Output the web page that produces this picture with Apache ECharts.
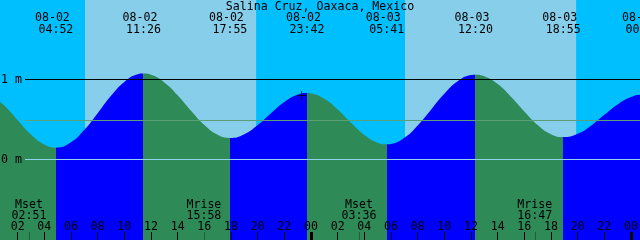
<!DOCTYPE html>
<html><head><meta charset="utf-8">
<script src="https://cdn.jsdelivr.net/npm/echarts@6/dist/echarts.min.js"></script>
<style>html,body{margin:0;padding:0;background:#00BFFF;overflow:hidden}#c{width:640px;height:240px}</style>
</head><body><div id="c"></div>
<script>
const titleText = 'Salina Cruz, Oaxaca, Mexico';
// tide curve: [hours since 08-02 00:00, height in m]
const tideData = [
  [0,0.810],[1,0.675],[2,0.492],[3,0.313],[4,0.188],[4.867,0.150],
  [6,0.216],[7,0.371],[8,0.579],[9,0.796],[10,0.970],[11,1.065],[11.433,1.075],
  [12,1.060],[13,0.964],[14,0.802],[15,0.609],[16,0.431],[17,0.309],[17.917,0.270],
  [19,0.317],[20,0.431],[21,0.579],[22,0.719],[23,0.810],[23.7,0.830],
  [24,0.826],[25,0.758],[26,0.624],[27,0.458],[28,0.307],[29,0.210],[29.683,0.190],
  [30,0.195],[31,0.272],[32,0.426],[33,0.623],[34,0.821],[35,0.977],[36,1.055],[36.333,1.060],
  [37,1.040],[38,0.943],[39,0.785],[40,0.601],[41,0.432],[42,0.316],[42.917,0.280],
  [44,0.322],[45,0.423],[46,0.558],[47,0.688],[48,0.781],[48.9,0.810],[49.5,0.800]
];
const eventDates = ['08-02','08-02','08-02','08-02','08-03','08-03','08-03','08-04'];
const eventTimes = ['04:52','11:26','17:55','23:42','05:41','12:20','18:55','00:54'];
const eventKinds = ['L','H','L','H','L','H','L','H'];
const moonNames = ['Mset','Mrise','Mset','Mrise'];
const moonDates = ['08-02','08-02','08-03','08-03'];
const moonTimes = ['02:51','15:58','03:36','16:47'];
const sunriseDates = ['08-02','08-03'];
const sunriseTimes = ['07:03','07:03'];
const sunsetTimes = ['19:53','19:53'];
const hourTicks = [2,4,6,8,10,12,14,16,18,20,22,24,26,28,30,32,34,36,38,40,42,44,46,48];
const midnightTicks = [24,48];
const levelLabelValues = [0,1];
const levelLines = [1,0,0.49];
const nowMark = [23.29,0.80];

const START = 0.675;             // 08-02 00:40
const GRID_W = 670;              // grid runs past right edge so edge labels are clipped
const END = START + 48*GRID_W/640;
const FONT = 'DejaVu Sans Mono';
const FS = 11.6;
const toH = (d,t) => (parseInt(d.split('-')[1],10)-2)*24 + parseInt(t.slice(0,2),10) + parseInt(t.slice(3),10)/60;
const pad = n => (n<10?'0':'') + n;
const eventHours = eventDates.map((d,i)=>toH(d,eventTimes[i]));
const moonHours = moonDates.map((d,i)=>toH(d,moonTimes[i]));
const idxOf = (arr,v) => arr.findIndex(a=>Math.abs(a-v)<1e-6);

const GREEN = '#2E8B57', BLUE = '#0000FF';
const pieces = [];
eventHours.forEach((t,i)=>{
  const col = eventKinds[i]==='L' ? GREEN : BLUE;
  if (i===0) pieces.push({lt:t, color:col});
  else pieces.push({gte:eventHours[i-1], lt:t, color:col});
});
pieces.push({gte:eventHours[eventHours.length-1], color: eventKinds[eventKinds.length-1]==='H'?GREEN:BLUE});

const dayAreas = sunriseDates.map((d,i)=>[{xAxis:toH(d,sunriseTimes[i])},{xAxis:toH(d,sunsetTimes[i])}]);

const txt = {fontFamily:FONT, fontSize:FS, color:'#000'};
const baseX = {type:'value', gridIndex:0, min:START, max:END, z:10,
  axisLine:{show:false, onZero:false}, splitLine:{show:false}};

const chart = echarts.init(document.getElementById('c'), null, {renderer:'canvas'});
chart.setOption({
  animation:false,
  backgroundColor:'#00BFFF',
  title:{text:titleText, left:'center', top:0, padding:[1,0,0,0],
    textStyle:{fontFamily:FONT, fontSize:FS, fontWeight:'normal', color:'#000'}},
  grid:[
    {left:0, top:-0.5, width:GRID_W, height:240.5, outerBoundsMode:'none', containLabel:false},
    {left:25, top:-0.5, width:GRID_W-25, height:240.5, outerBoundsMode:'none', containLabel:false}
  ],
  xAxis:[
    Object.assign({}, baseX, {position:'bottom',
      axisTick:{show:true, inside:true, length:8, customValues:hourTicks, lineStyle:{color:'#000', width:1}},
      axisLabel:Object.assign({show:true, inside:true, margin:7, customValues:hourTicks,
        formatter:v=>pad(Math.round(v)%24)}, txt)}),
    Object.assign({}, baseX, {position:'bottom',
      axisTick:{show:true, inside:true, length:8, customValues:midnightTicks, lineStyle:{color:'#000', width:3}},
      axisLabel:{show:false}}),
    Object.assign({}, baseX, {position:'bottom',
      axisTick:{show:true, inside:true, length:8, customValues:moonHours, lineStyle:{color:'#1f5f3c', width:1}},
      axisLabel:Object.assign({show:true, inside:true, margin:19, lineHeight:11, customValues:moonHours,
        formatter:v=>{const i=idxOf(moonHours,v); return moonNames[i]+'\n'+moonTimes[i];}}, txt)}),
    Object.assign({}, baseX, {position:'top',
      axisTick:{show:false},
      axisLabel:Object.assign({show:true, inside:true, margin:12, lineHeight:12, customValues:eventHours,
        formatter:v=>{const i=idxOf(eventHours,v); return eventDates[i]+' \n'+eventTimes[i];}}, txt)}),
    {type:'value', gridIndex:1, min:0, max:1, show:false}
  ],
  yAxis:[
    {type:'value', gridIndex:0, min:2-240.5/80, max:2, z:10,
      axisLine:{show:false, onZero:false}, axisTick:{show:false}, splitLine:{show:false},
      axisLabel:Object.assign({show:true, inside:true, margin:1, customValues:levelLabelValues,
        formatter:v=>Math.round(v)+' m'}, txt)},
    {type:'value', gridIndex:1, min:2-240.5/80, max:2, show:false}
  ],
  visualMap:{type:'piecewise', show:false, dimension:0, seriesIndex:1, pieces:pieces},
  series:[
    {type:'line', xAxisIndex:0, yAxisIndex:0, data:[], z:1, silent:true,
      markArea:{silent:true, itemStyle:{color:'#87CEEB'}, data:dayAreas}},
    {type:'line', xAxisIndex:0, yAxisIndex:0, data:tideData, smooth:true, symbol:'none',
      lineStyle:{width:0}, areaStyle:{opacity:1, origin:'start'}, z:2, silent:true},
    {type:'line', xAxisIndex:4, yAxisIndex:1, data:[[0,0]], symbol:'none', showSymbol:false,
      lineStyle:{opacity:0}, z:3, silent:true,
      markLine:{silent:true, symbol:['none','none'], label:{show:false},
        data:[
          {yAxis:levelLines[0], lineStyle:{color:'#000', width:1, type:'solid'}},
          {yAxis:levelLines[1], lineStyle:{color:'#8fd4ec', width:1, type:'solid'}},
          {yAxis:levelLines[2], lineStyle:{color:'#5a9f78', width:1, type:'solid'}}
        ]}},
    {type:'scatter', xAxisIndex:0, yAxisIndex:0, data:[nowMark], z:4, silent:true,
      symbol:'path://M0,4H9V5H0Z M4,0H5V9H4Z', symbolSize:9, itemStyle:{color:'#000'}}
  ]
});
</script></body></html>
